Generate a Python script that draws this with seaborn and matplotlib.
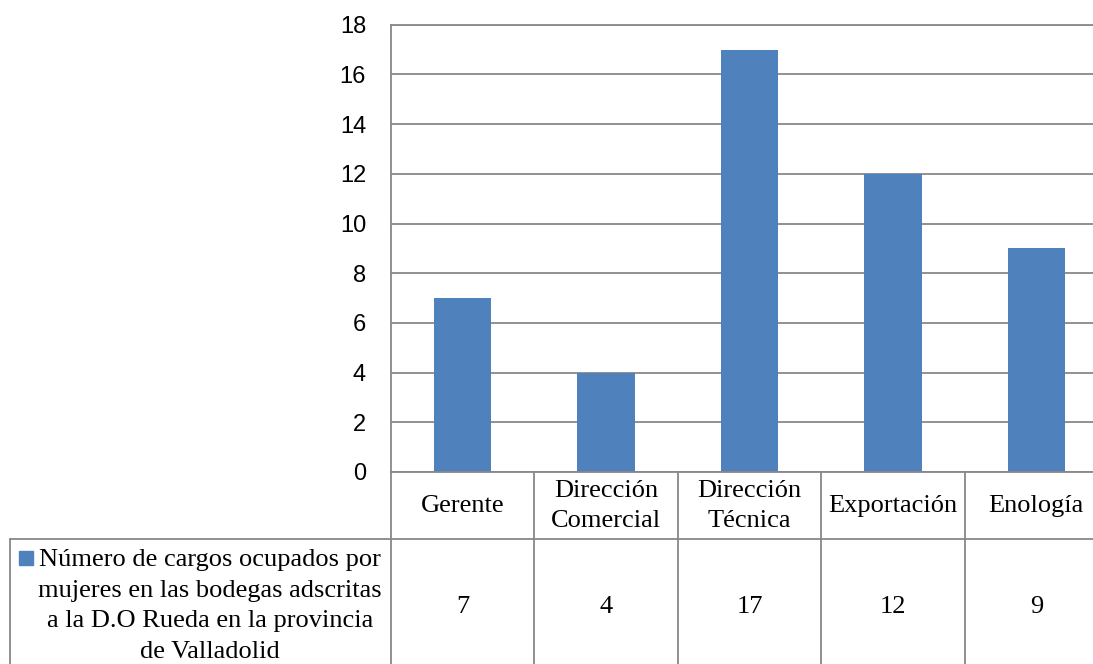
import matplotlib
matplotlib.use("Agg")
import matplotlib.pyplot as plt
import matplotlib.transforms as mtransforms
from matplotlib.patches import Rectangle
import seaborn as sns
import pandas as pd

# data
categories = ["Gerente", "Dirección\nComercial", "Dirección\nTécnica", "Exportación", "Enología"]
values = [7, 4, 17, 12, 9]
series_name = ("Número de cargos ocupados por\nmujeres en las bodegas adscritas\n"
               "a la D.O Rueda en la provincia\nde Valladolid")
yticks = list(range(0, 19, 2))

BLUE = "#4F81BD"
GRID = "#888888"
SERIF = ["Liberation Serif", "DejaVu Serif"]

sns.set_theme(style="white")
plt.rcParams["font.family"] = ["Liberation Sans", "DejaVu Sans"]

W, H = 1093, 664
fig = plt.figure(figsize=(W / 100, H / 100), dpi=100)
ax = fig.add_axes([391 / W, (H - 472) / H, (1108 - 391) / W, (472 - 24.7) / H])

df = pd.DataFrame({"cat": categories, "val": values})
sns.barplot(data=df, x="cat", y="val", color=BLUE, width=0.4, saturation=1,
            linewidth=0, ax=ax)
ax.set_ylim(0, 18)
ax.set_yticks(yticks)
ax.set_xlim(-0.5, len(categories) - 0.5)
ax.yaxis.grid(True, color=GRID, lw=1.3)
ax.set_axisbelow(True)
ax.set_xlabel("")
ax.set_ylabel("")
ax.set_xticklabels([])
ax.tick_params(axis="x", length=0)
ax.tick_params(axis="y", length=0, pad=18, labelsize=17, labelcolor="black")
ax.spines["right"].set_visible(False)
for s in ["left", "top", "bottom"]:
    ax.spines[s].set_color(GRID)
    ax.spines[s].set_linewidth(1.3)

# data table drawn in pixel space under the chart
ov = fig.add_axes([0, 0, 1, 1])
ov.set_xlim(0, W)
ov.set_ylim(H, 0)
ov.axis("off")
ov.patch.set_alpha(0)
blend = mtransforms.blended_transform_factory(ax.transData, ov.transData)

for i in range(len(categories) + 1):
    ov.plot([i - 0.5, i - 0.5], [472, H], transform=blend, color=GRID, lw=1.3, clip_on=False)
ov.plot([10, W], [539, 539], color=GRID, lw=1.3)
ov.plot([10, 10], [539, H], color=GRID, lw=1.3)

for i, (c, v) in enumerate(zip(categories, values)):
    ov.text(i, 506, c, transform=blend, ha="center", va="center", family=SERIF,
            fontsize=19, linespacing=1.52, color="black")
    ov.text(i, 607, str(v), transform=blend, ha="center", va="center", family=SERIF,
            fontsize=19, color="black")

ov.add_patch(Rectangle((19, 551), 14, 14, color=BLUE))
ov.text(210, 606, series_name, ha="center", va="center", multialignment="center",
        family=SERIF, fontsize=19, linespacing=1.52, color="black")

fig.savefig("out.png", dpi=100)
